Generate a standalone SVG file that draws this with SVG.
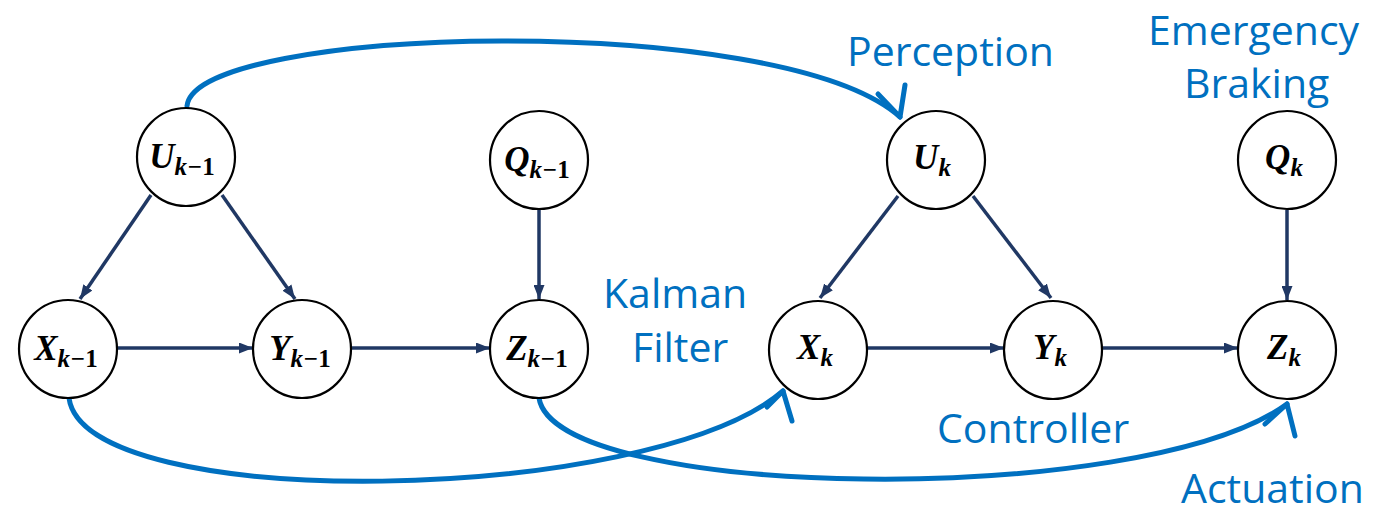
<svg xmlns="http://www.w3.org/2000/svg" width="1374" height="515" viewBox="0 0 1374 515">
<style>
.node{fill:#fff;stroke:#000;stroke-width:2.2}
.lbl{font-family:"Liberation Serif",serif;font-weight:bold;font-style:italic;font-size:35px;fill:#000}
.sub{font-size:25px}
.up{font-style:normal}
.edge{stroke:#203864;stroke-width:3.5;fill:none}
.blue{stroke:#0070C0;stroke-width:5;fill:none;stroke-linecap:round;stroke-linejoin:round}
.cap{font-family:"Open Sans","Noto Sans",sans-serif;font-size:41px;fill:#0070C0}
</style>
<defs>
<marker id="ah" viewBox="0 0 14 11" refX="14" refY="5.5" markerWidth="14" markerHeight="11" markerUnits="userSpaceOnUse" orient="auto">
<path d="M0,0 L14,5.5 L0,11 z" fill="#203864"/>
</marker>
</defs>
<rect width="1374" height="515" fill="#fff"/>
<g id="connectors">
<line class="edge" x1="151" y1="195" x2="80" y2="299" marker-end="url(#ah)"/>
<line class="edge" x1="222" y1="195" x2="295" y2="299" marker-end="url(#ah)"/>
<line class="edge" x1="539" y1="209" x2="539" y2="299" marker-end="url(#ah)"/>
<line class="edge" x1="117" y1="348" x2="253" y2="348" marker-end="url(#ah)"/>
<line class="edge" x1="351" y1="348" x2="490" y2="348" marker-end="url(#ah)"/>
<line class="edge" x1="898" y1="196" x2="820" y2="298" marker-end="url(#ah)"/>
<line class="edge" x1="973" y1="196" x2="1051" y2="298" marker-end="url(#ah)"/>
<line class="edge" x1="1287" y1="210" x2="1287" y2="300" marker-end="url(#ah)"/>
<line class="edge" x1="867" y1="348" x2="1004" y2="348" marker-end="url(#ah)"/>
<line class="edge" x1="1102" y1="348" x2="1238" y2="348" marker-end="url(#ah)"/>
<path class="blue" d="M187,106 C195,25 780,10 900,117"/>
<path class="blue" d="M878,94 L900,117 L905,85"/>
<path class="blue" d="M69,398 C85,515 650,505 783,391"/>
<path class="blue" d="M767,407 L783,391 L792,421"/>
<path class="blue" d="M539,398 C555,500 1140,510 1287,404"/>
<path class="blue" d="M1265,424 L1287,404 L1295,436"/>
</g>
<g id="n-Ukm1"><circle class="node" cx="186" cy="157" r="49"/><text class="lbl" x="182" y="168" text-anchor="middle">U<tspan class="sub" dy="7">k−<tspan class="up">1</tspan></tspan></text></g>
<g id="n-Xkm1"><circle class="node" cx="68" cy="349" r="49"/><text class="lbl" x="66" y="360" text-anchor="middle">X<tspan class="sub" dy="7">k−<tspan class="up">1</tspan></tspan></text></g>
<g id="n-Ykm1"><circle class="node" cx="302" cy="349" r="49"/><text class="lbl" x="300" y="360" text-anchor="middle">Y<tspan class="sub" dy="7">k−<tspan class="up">1</tspan></tspan></text></g>
<g id="n-Zkm1"><circle class="node" cx="539" cy="349" r="49"/><text class="lbl" x="537" y="360" text-anchor="middle">Z<tspan class="sub" dy="7">k−<tspan class="up">1</tspan></tspan></text></g>
<g id="n-Qkm1"><circle class="node" cx="539" cy="160" r="49"/><text class="lbl" x="537" y="171" text-anchor="middle">Q<tspan class="sub" dy="7">k−<tspan class="up">1</tspan></tspan></text></g>
<g id="n-Uk"><circle class="node" cx="936" cy="160" r="49"/><text class="lbl" x="932" y="169" text-anchor="middle">U<tspan class="sub" dy="7">k</tspan></text></g>
<g id="n-Xk"><circle class="node" cx="818" cy="350" r="49"/><text class="lbl" x="815" y="359" text-anchor="middle">X<tspan class="sub" dy="7">k</tspan></text></g>
<g id="n-Yk"><circle class="node" cx="1053" cy="350" r="49"/><text class="lbl" x="1050" y="359" text-anchor="middle">Y<tspan class="sub" dy="7">k</tspan></text></g>
<g id="n-Zk"><circle class="node" cx="1287" cy="350" r="49"/><text class="lbl" x="1284" y="359" text-anchor="middle">Z<tspan class="sub" dy="7">k</tspan></text></g>
<g id="n-Qk"><circle class="node" cx="1287" cy="160" r="49"/><text class="lbl" x="1284" y="169" text-anchor="middle">Q<tspan class="sub" dy="7">k</tspan></text></g>
<g id="labels">
<text class="cap" x="847" y="66">Perception</text>
<text class="cap" x="1148" y="45">Emergency</text>
<text class="cap" x="1184" y="98">Braking</text>
<text class="cap" x="603" y="308">Kalman</text>
<text class="cap" x="632" y="362">Filter</text>
<text class="cap" x="937" y="443">Controller</text>
<text class="cap" x="1181" y="503">Actuation</text>
</g>
</svg>
